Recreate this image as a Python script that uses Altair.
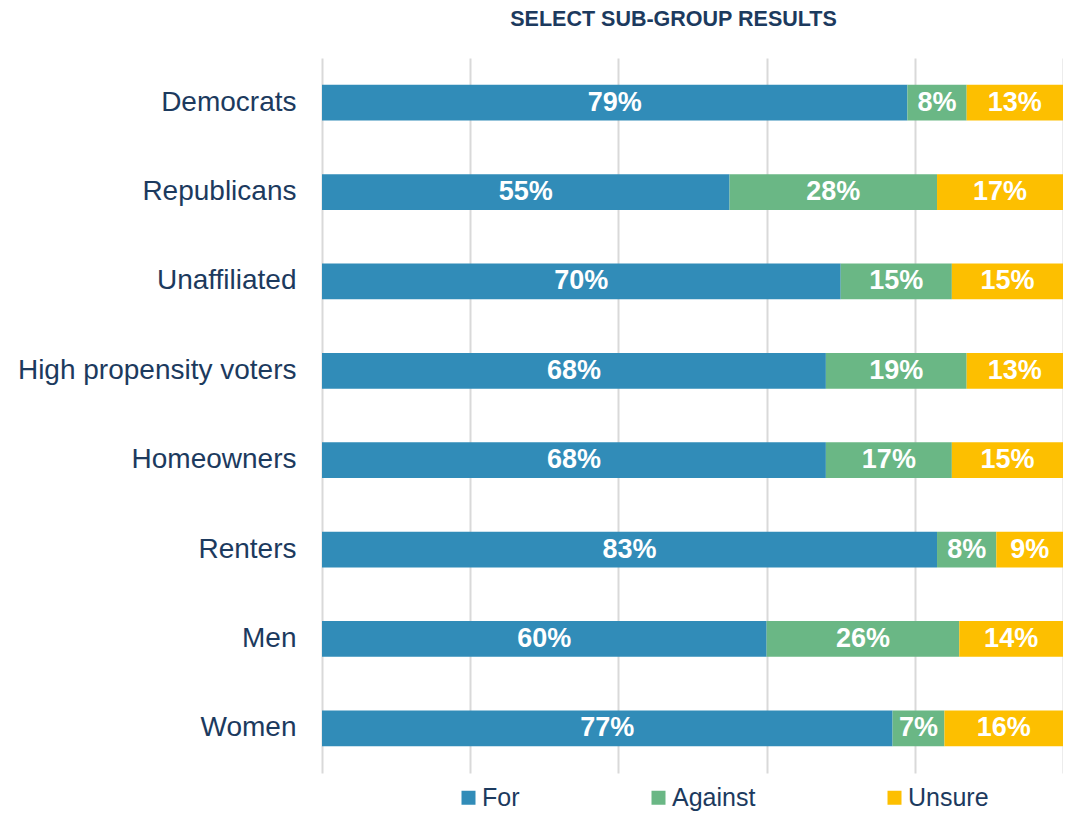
import altair as alt
import pandas as pd

groups = ["Democrats", "Republicans", "Unaffiliated", "High propensity voters",
          "Homeowners", "Renters", "Men", "Women"]
for_vals = [79, 55, 70, 68, 68, 83, 60, 77]
against_vals = [8, 28, 15, 19, 17, 8, 26, 7]
unsure_vals = [13, 17, 15, 13, 15, 9, 14, 16]
responses = ["For", "Against", "Unsure"]
colors = ["#318cb8", "#6ab785", "#fdbf00"]
grid_values = [0, 20, 40, 60, 80, 100]

rows = []
for g, f, a, u in zip(groups, for_vals, against_vals, unsure_vals):
    for i, (r, v) in enumerate(zip(responses, [f, a, u])):
        rows.append({"group": g, "response": r, "value": v, "order": i})
df = pd.DataFrame(rows)

navy = "#1c3a5e"
font = "Liberation Sans"

base = alt.Chart(df).transform_stack(
    stack="value", groupby=["group"], as_=["start", "end"],
    sort=[alt.SortField("order", order="ascending")]
).transform_calculate(
    mid="(datum.start + datum.end) / 2",
    label="datum.value + '%'"
)

y_enc = alt.Y("group:N", sort=groups, title=None,
              scale=alt.Scale(paddingInner=0.6, paddingOuter=0.3),
              axis=alt.Axis(ticks=False, domain=False, grid=False,
                            labelFontSize=28, labelFont=font, labelColor=navy,
                            labelPadding=26, labelLimit=400))

bars = base.mark_bar().encode(
    x=alt.X("start:Q", scale=alt.Scale(domain=[0, 100], nice=False),
            axis=alt.Axis(values=grid_values, labels=False, ticks=False,
                          domain=False, grid=True, gridColor="#d9d9d9",
                          gridWidth=2, title=None)),
    x2="end:Q",
    y=y_enc,
    color=alt.Color("response:N",
                    scale=alt.Scale(domain=responses, range=colors),
                    sort=responses,
                    legend=alt.Legend(orient="none", legendX=134, legendY=727,
                                      direction="horizontal", title=None,
                                      symbolType="square", symbolSize=196,
                                      symbolStrokeWidth=0,
                                      labelFontSize=25, labelFont=font,
                                      labelColor=navy, columnPadding=126,
                                      labelOffset=1, padding=0)),
)

text = base.mark_text(color="white", fontWeight="bold", fontSize=27,
                      font=font, baseline="middle").encode(
    x="mid:Q",
    y=alt.Y("group:N", sort=groups),
    text="label:N",
)

chart = alt.layer(bars, text).properties(
    width=741, height=715,
    autosize=alt.AutoSizeParams(type="none"),
    padding={"left": 314, "top": 50, "right": 0, "bottom": 41},
    title=alt.TitleParams("SELECT SUB-GROUP RESULTS", fontSize=21.5, font=font,
                          fontWeight="bold", color=navy, anchor="middle",
                          dx=-19, offset=28),
).configure_view(stroke=None)

chart.save("out.html", embed_options={"renderer": "svg", "actions": False})
